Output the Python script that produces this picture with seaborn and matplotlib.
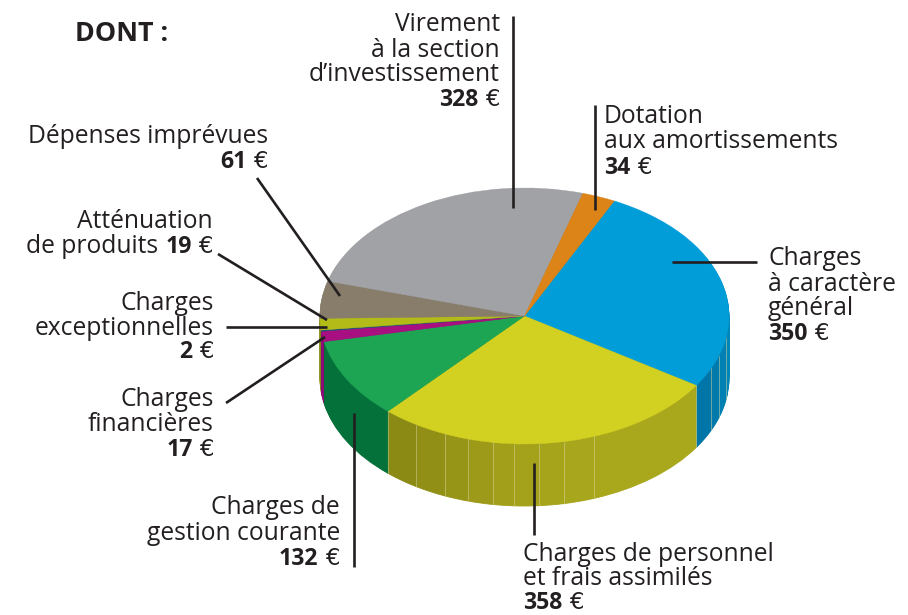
import numpy as np
import matplotlib
matplotlib.use("Agg")
import matplotlib.pyplot as plt
import seaborn as sns

# slices, clockwise from the blue one
categories = ["Charges à caractère général", "Charges de personnel et frais assimilés",
              "Charges de gestion courante", "Charges financières", "Charges exceptionnelles",
              "Atténuation de produits", "Dépenses imprévues",
              "Virement à la section d'investissement", "Dotation aux amortissements"]
values = [350, 358, 132, 17, 2, 19, 61, 328, 34]
top_colors = ["#009dd8", "#d2d021", "#1da553", "#a80f80", "#1a4f80",
              "#b3bb18", "#877d6a", "#a1a2a5", "#dd8418"]
side_colors = ["#007fb1", "#a0a01a", "#04703a", "#8f0a78", "#123a60",
               "#8f9512", "#9a957f", "#808184", "#b06a12"]

# facet seams on the rim, in degrees
blue_seams = [-10, -18, -24]
yellow_seams = [-70, -79, -86, -93, -99, -106, -113, -122]

START = 64
DEPTH = 62 / 128
INK = "#231f20"

sns.set_theme(style="white")
plt.rcParams["font.family"] = ["Open Sans", "DejaVu Sans"]

fig = plt.figure(figsize=(9.08, 6.15), dpi=100)

# pie axes: one data unit is 204.5 px across and 128 px down
cx, cy, rx, ry = 524.5, 316, 204.5, 128
ax = fig.add_axes([(cx - 1.1 * rx) / 908, (615 - (cy + 1.6 * ry)) / 615, 2.2 * rx / 908, 2.7 * ry / 615])

spans = [360 * v / sum(values) for v in values]
rim_sizes, rim_colors = [], []
angle = START
for i, span in enumerate(spans):
    seams = {0: blue_seams, 1: yellow_seams}.get(i, [])
    cuts = [angle] + seams + [angle - span]
    shades = sns.blend_palette(["#0085b8", "#0075a8"], len(cuts) - 1) if i == 0 else (
        sns.blend_palette(["#a9a81d", "#a2a01a", "#8b8a14"], len(cuts) - 1) if i == 1 else [side_colors[i]])
    for j in range(len(cuts) - 1):
        rim_sizes.append(cuts[j] - cuts[j + 1])
        rim_colors.append(shades[j])
    angle -= span

for k in range(62, 0, -1):
    wedges, _ = ax.pie(rim_sizes, colors=rim_colors, startangle=START, counterclock=False,
                       center=(0, -DEPTH * k / 62), wedgeprops={"linewidth": 0.6})
    for w in wedges:
        w.set_edgecolor(w.get_facecolor())
wedges, _ = ax.pie(values, colors=sns.color_palette(top_colors), startangle=START, counterclock=False,
                   wedgeprops={"linewidth": 0.3})
for w in wedges:
    w.set_edgecolor(w.get_facecolor())

ends = list(START - np.cumsum(spans))
for s in blue_seams + yellow_seams + [ends[0], ends[1]]:
    a = np.radians(s)
    ax.plot([np.cos(a)] * 2, [np.sin(a), np.sin(a) - DEPTH], color="#d8d8a0", lw=0.6, alpha=0.6, zorder=5)

ax.set_aspect("auto")
ax.set_xlim(-1.1, 1.1)
ax.set_ylim(-1.6, 1.1)
ax.axis("off")

# overlay in pixel coordinates for the labels and leader lines
over = fig.add_axes([0, 0, 1, 1])
over.set_xlim(0, 908)
over.set_ylim(615, 0)
over.axis("off")
over.patch.set_alpha(0)

leaders = [((513, 16), (513, 208)), ((595, 105), (595, 210)), ((672, 262), (757, 262)),
           ((534, 463), (534, 535)), ((354, 413), (354, 567)), ((226, 403), (325, 337)),
           ((226, 327), (327, 327)), ((218, 254), (327, 320)), ((257, 178), (340, 296))]
for p, q in leaders:
    over.plot([p[0], q[0]], [p[1], q[1]], color=INK, lw=1.9, solid_capstyle="butt")

renderer = fig.canvas.get_renderer()
FS = 17.7
FS_BOLD = 16.6
FS_EURO = 16.5


def put_line(x, y, parts, ha="left"):
    # parts are (text, bold) runs set one after the other
    runs = parts if ha == "left" else parts[::-1]
    for s, bold in runs:
        euro = s == "€"
        t = over.text(x, y, s, fontsize=FS_EURO if euro else (FS_BOLD if bold else FS), color=INK,
                      ha=ha, va="baseline", fontweight="bold" if bold else "normal",
                      family="DejaVu Sans" if euro else None)
        w = t.get_window_extent(renderer).width + 7
        x = x + w if ha == "left" else x - w


put_line(75, 41, [("DONT :", True)])
over.texts[-1].set_fontsize(19.4)

put_line(500, 31, [("Virement", False)], "right")
put_line(500, 57, [("à la section", False)], "right")
put_line(500, 81, [("d’investissement", False)], "right")
put_line(500, 106, [("328", True), ("€", False)], "right")

put_line(604, 123, [("Dotation", False)])
put_line(604, 148, [("aux amortissements", False)])
put_line(604, 174, [("34", True), ("€", False)])

put_line(768, 265, [("Charges", False)])
put_line(768, 291, [("à caractère", False)])
put_line(768, 315, [("général", False)])
put_line(768, 340, [("350", True), ("€", False)])

put_line(523, 561, [("Charges de personnel", False)])
put_line(523, 585, [("et frais assimilés", False)])
put_line(523, 609, [("358", True), ("€", False)])

put_line(340, 514, [("Charges de", False)], "right")
put_line(340, 540, [("gestion courante", False)], "right")
put_line(340, 565, [("132", True), ("€", False)], "right")

put_line(214, 406, [("Charges", False)], "right")
put_line(214, 431, [("financières", False)], "right")
put_line(214, 456, [("17", True), ("€", False)], "right")

put_line(214, 310, [("Charges", False)], "right")
put_line(214, 335, [("exceptionnelles", False)], "right")
put_line(214, 358, [("2", True), ("€", False)], "right")

put_line(213, 228, [("Atténuation", False)], "right")
put_line(213, 253, [("de produits", False), ("19", True), ("€", False)], "right")

put_line(268, 143, [("Dépenses imprévues", False)], "right")
put_line(268, 168, [("61", True), ("€", False)], "right")

plt.savefig("out.png", dpi=100)
plt.close()
